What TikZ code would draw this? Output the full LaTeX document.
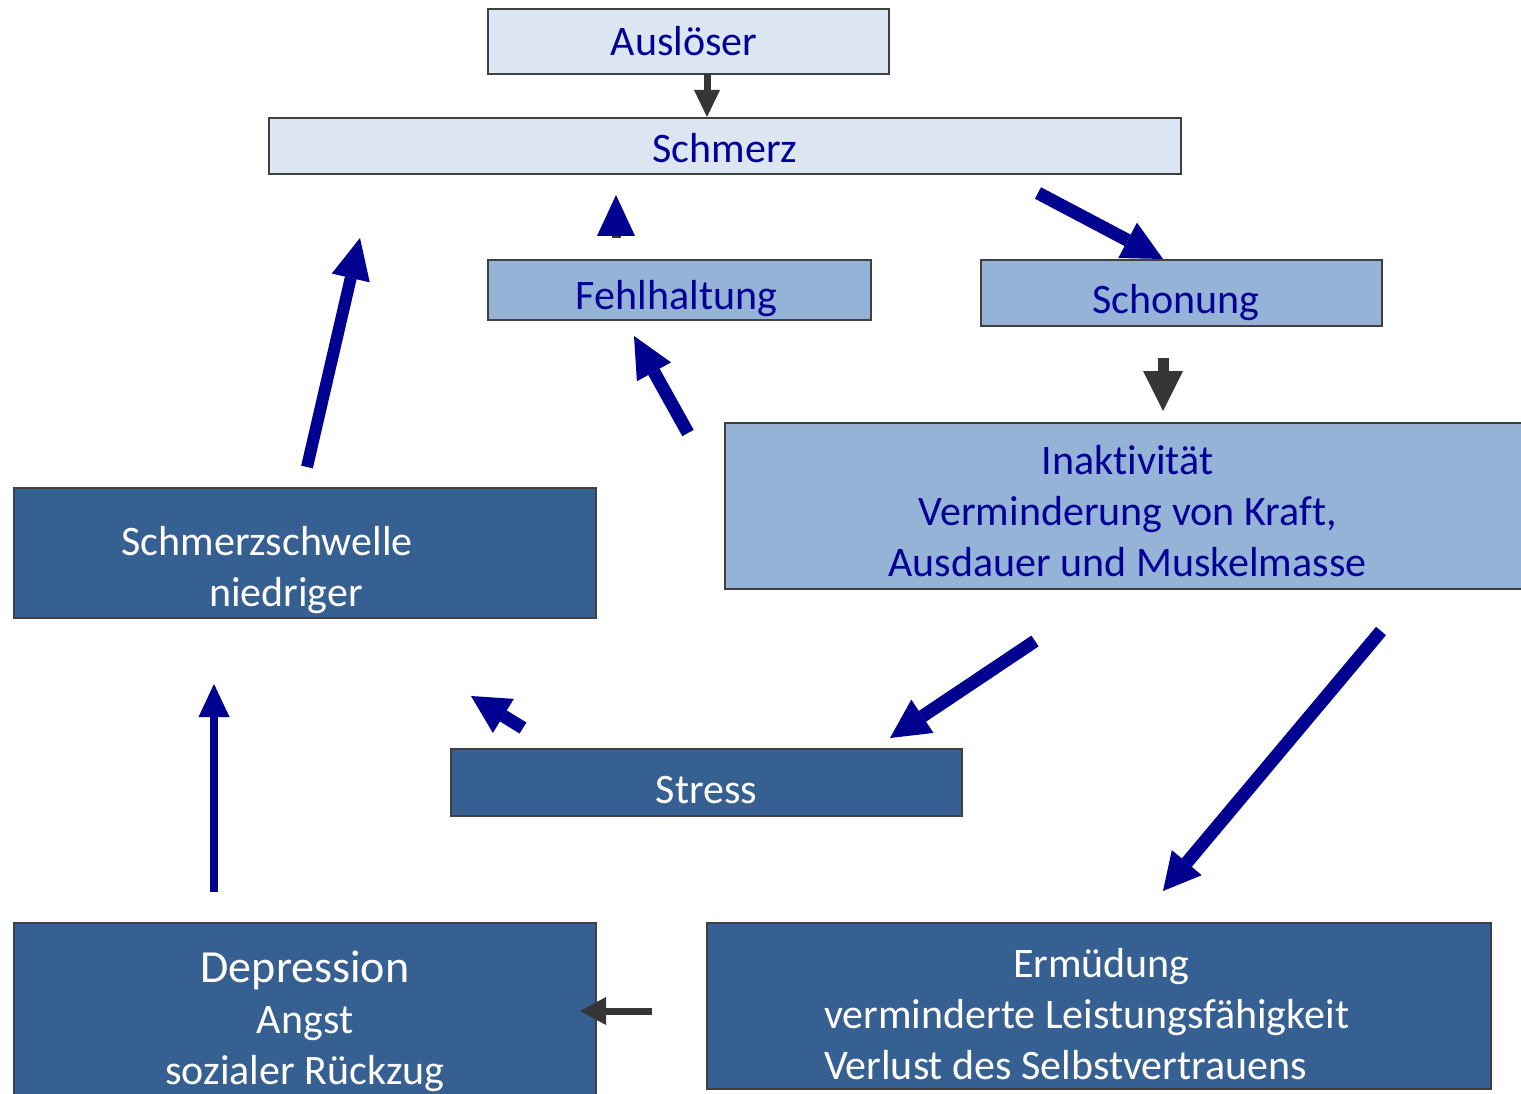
\documentclass[tikz,border=0pt]{standalone}
\usepackage{fontspec}
\setmainfont{Carlito}[Ligatures={NoCommon,NoContextual}]
\usetikzlibrary{arrows.meta}
\definecolor{lightfill}{HTML}{DCE6F2}
\definecolor{midfill}{HTML}{95B3D7}
\definecolor{darkfill}{HTML}{376092}
\definecolor{bordergray}{HTML}{404040}
\definecolor{textblue}{HTML}{000096}
\definecolor{arrblue}{HTML}{000090}
\definecolor{arrgray}{HTML}{363636}
\tikzset{
  box/.style={draw=bordergray, line width=2pt, inner sep=0pt},
  lightbox/.style={box, fill=lightfill},
  midbox/.style={box, fill=midfill},
  darkbox/.style={box, fill=darkfill},
  txt/.style={inner sep=0pt, align=center, font=\fontsize{42}{51}\selectfont},
  bluetxt/.style={txt, text=textblue},
  whitetxt/.style={txt, text=white},
  barrow/.style={draw=arrblue, line width=#1},
  garrow/.style={draw=arrgray, line width=#1},
}
\begin{document}
\begin{tikzpicture}[x=1pt,y=-1pt]
\useasboundingbox[fill=white] (0,0) rectangle (1521,1094);
% boxes
\node[lightbox, minimum width=401pt, minimum height=65pt] (aus) at (688.5,41.5) {};
\node[lightbox, minimum width=912pt, minimum height=56pt] (sch) at (725,146) {};
\node[midbox, minimum width=383pt, minimum height=60pt] (feh) at (679.5,290) {};
\node[midbox, minimum width=401pt, minimum height=66pt] (scho) at (1181.5,293) {};
\node[midbox, minimum width=805pt, minimum height=166pt] (ina) at (1127.5,506) {};
\node[darkbox, minimum width=582pt, minimum height=130pt] (schw) at (305,553) {};
\node[darkbox, minimum width=511pt, minimum height=67pt] (str) at (706.5,782.5) {};
\node[darkbox, minimum width=582pt, minimum height=187pt] (dep) at (305,1016.5) {};
\node[darkbox, minimum width=784pt, minimum height=166pt] (erm) at (1099,1006) {};
% texts
\node[bluetxt] (aus-t) at (684,41.5) {Auslöser};
\node[bluetxt] (sch-t) at (725,148) {Schmerz};
\node[bluetxt] (feh-t) at (676.5,299) {Fehlhaltung};
\node[bluetxt] (scho-t) at (1176,303) {Schonung};
\node[bluetxt] (ina-t) at (1127.5,511.5) {Inaktivität\\Verminderung von Kraft,\\Ausdauer und Muskelmasse};
\node[whitetxt] (schw-t) at (305,570) {Schmerzschwelle\hspace*{76pt}\\niedriger\hspace*{38pt}};
\node[whitetxt] (str-t) at (706.5,790.5) {Stress};
\node[whitetxt] (dep-t) at (305,1021) {{\fontsize{46}{51}\selectfont Depression}\\Angst\\sozialer Rückzug};
\node[whitetxt, text width=550pt, align=flush left] (erm-t) at (1099,1014) {\hspace*{189pt}Ermüdung\\verminderte Leistungsfähigkeit\\Verlust des Selbstvertrauens};
% arrow end coordinates
\coordinate (a1s) at (707,74);   \coordinate (a1e) at (707,117);
\coordinate (a2s) at (1163,358); \coordinate (a2e) at (1163,411);
\coordinate (a3s) at (652,1011); \coordinate (a3e) at (580,1011);
\coordinate (b4s) at (1038,193); \coordinate (b4e) at (1163,259);
\coordinate (b5s) at (616,238);  \coordinate (b5e) at (616,195);
\coordinate (b6s) at (688,433);  \coordinate (b6e) at (634,336);
\coordinate (b7s) at (307,467);  \coordinate (b7e) at (360,238);
\coordinate (b8s) at (1035,641); \coordinate (b8e) at (890,738);
\coordinate (b9s) at (523,728);  \coordinate (b9e) at (471,696);
\coordinate (b10s) at (1381,631); \coordinate (b10e) at (1163,891);
\coordinate (b11s) at (214,892); \coordinate (b11e) at (214,684);
% gray arrows
\draw[garrow=7pt, -{Triangle[width=26pt,length=27pt,line width=0pt]}] (a1s) -- (a1e);
\draw[garrow=11pt, -{Triangle[width=40pt,length=40pt,line width=0pt]}] (a2s) -- (a2e);
\draw[garrow=7pt, -{Triangle[width=28pt,length=26pt,line width=0pt]}] (a3s) -- (a3e);
% blue arrows
\draw[barrow=13pt, -{Triangle[width=40pt,length=40pt,line width=0pt]}] (b4s) -- (b4e);
\draw[garrow=9pt, -{Triangle[width=38pt,length=41pt,line width=0pt,color=arrblue]}] (b5s) -- (b5e);
\draw[barrow=13pt, -{Triangle[width=39pt,length=41pt,line width=0pt]}] (b6s) -- (b6e);
\draw[barrow=12pt, -{Triangle[width=39pt,length=41pt,line width=0pt]}] (b7s) -- (b7e);
\draw[barrow=13pt, -{Triangle[width=40pt,length=39pt,line width=0pt]}] (b8s) -- (b8e);
\draw[barrow=13pt, -{Triangle[width=40pt,length=38pt,line width=0pt]}] (b9s) -- (b9e);
\draw[barrow=13pt, -{Triangle[width=39pt,length=37pt,line width=0pt]}] (b10s) -- (b10e);
\draw[barrow=8pt, -{Triangle[width=31pt,length=33pt,line width=0pt]}] (b11s) -- (b11e);
\end{tikzpicture}
\end{document}
